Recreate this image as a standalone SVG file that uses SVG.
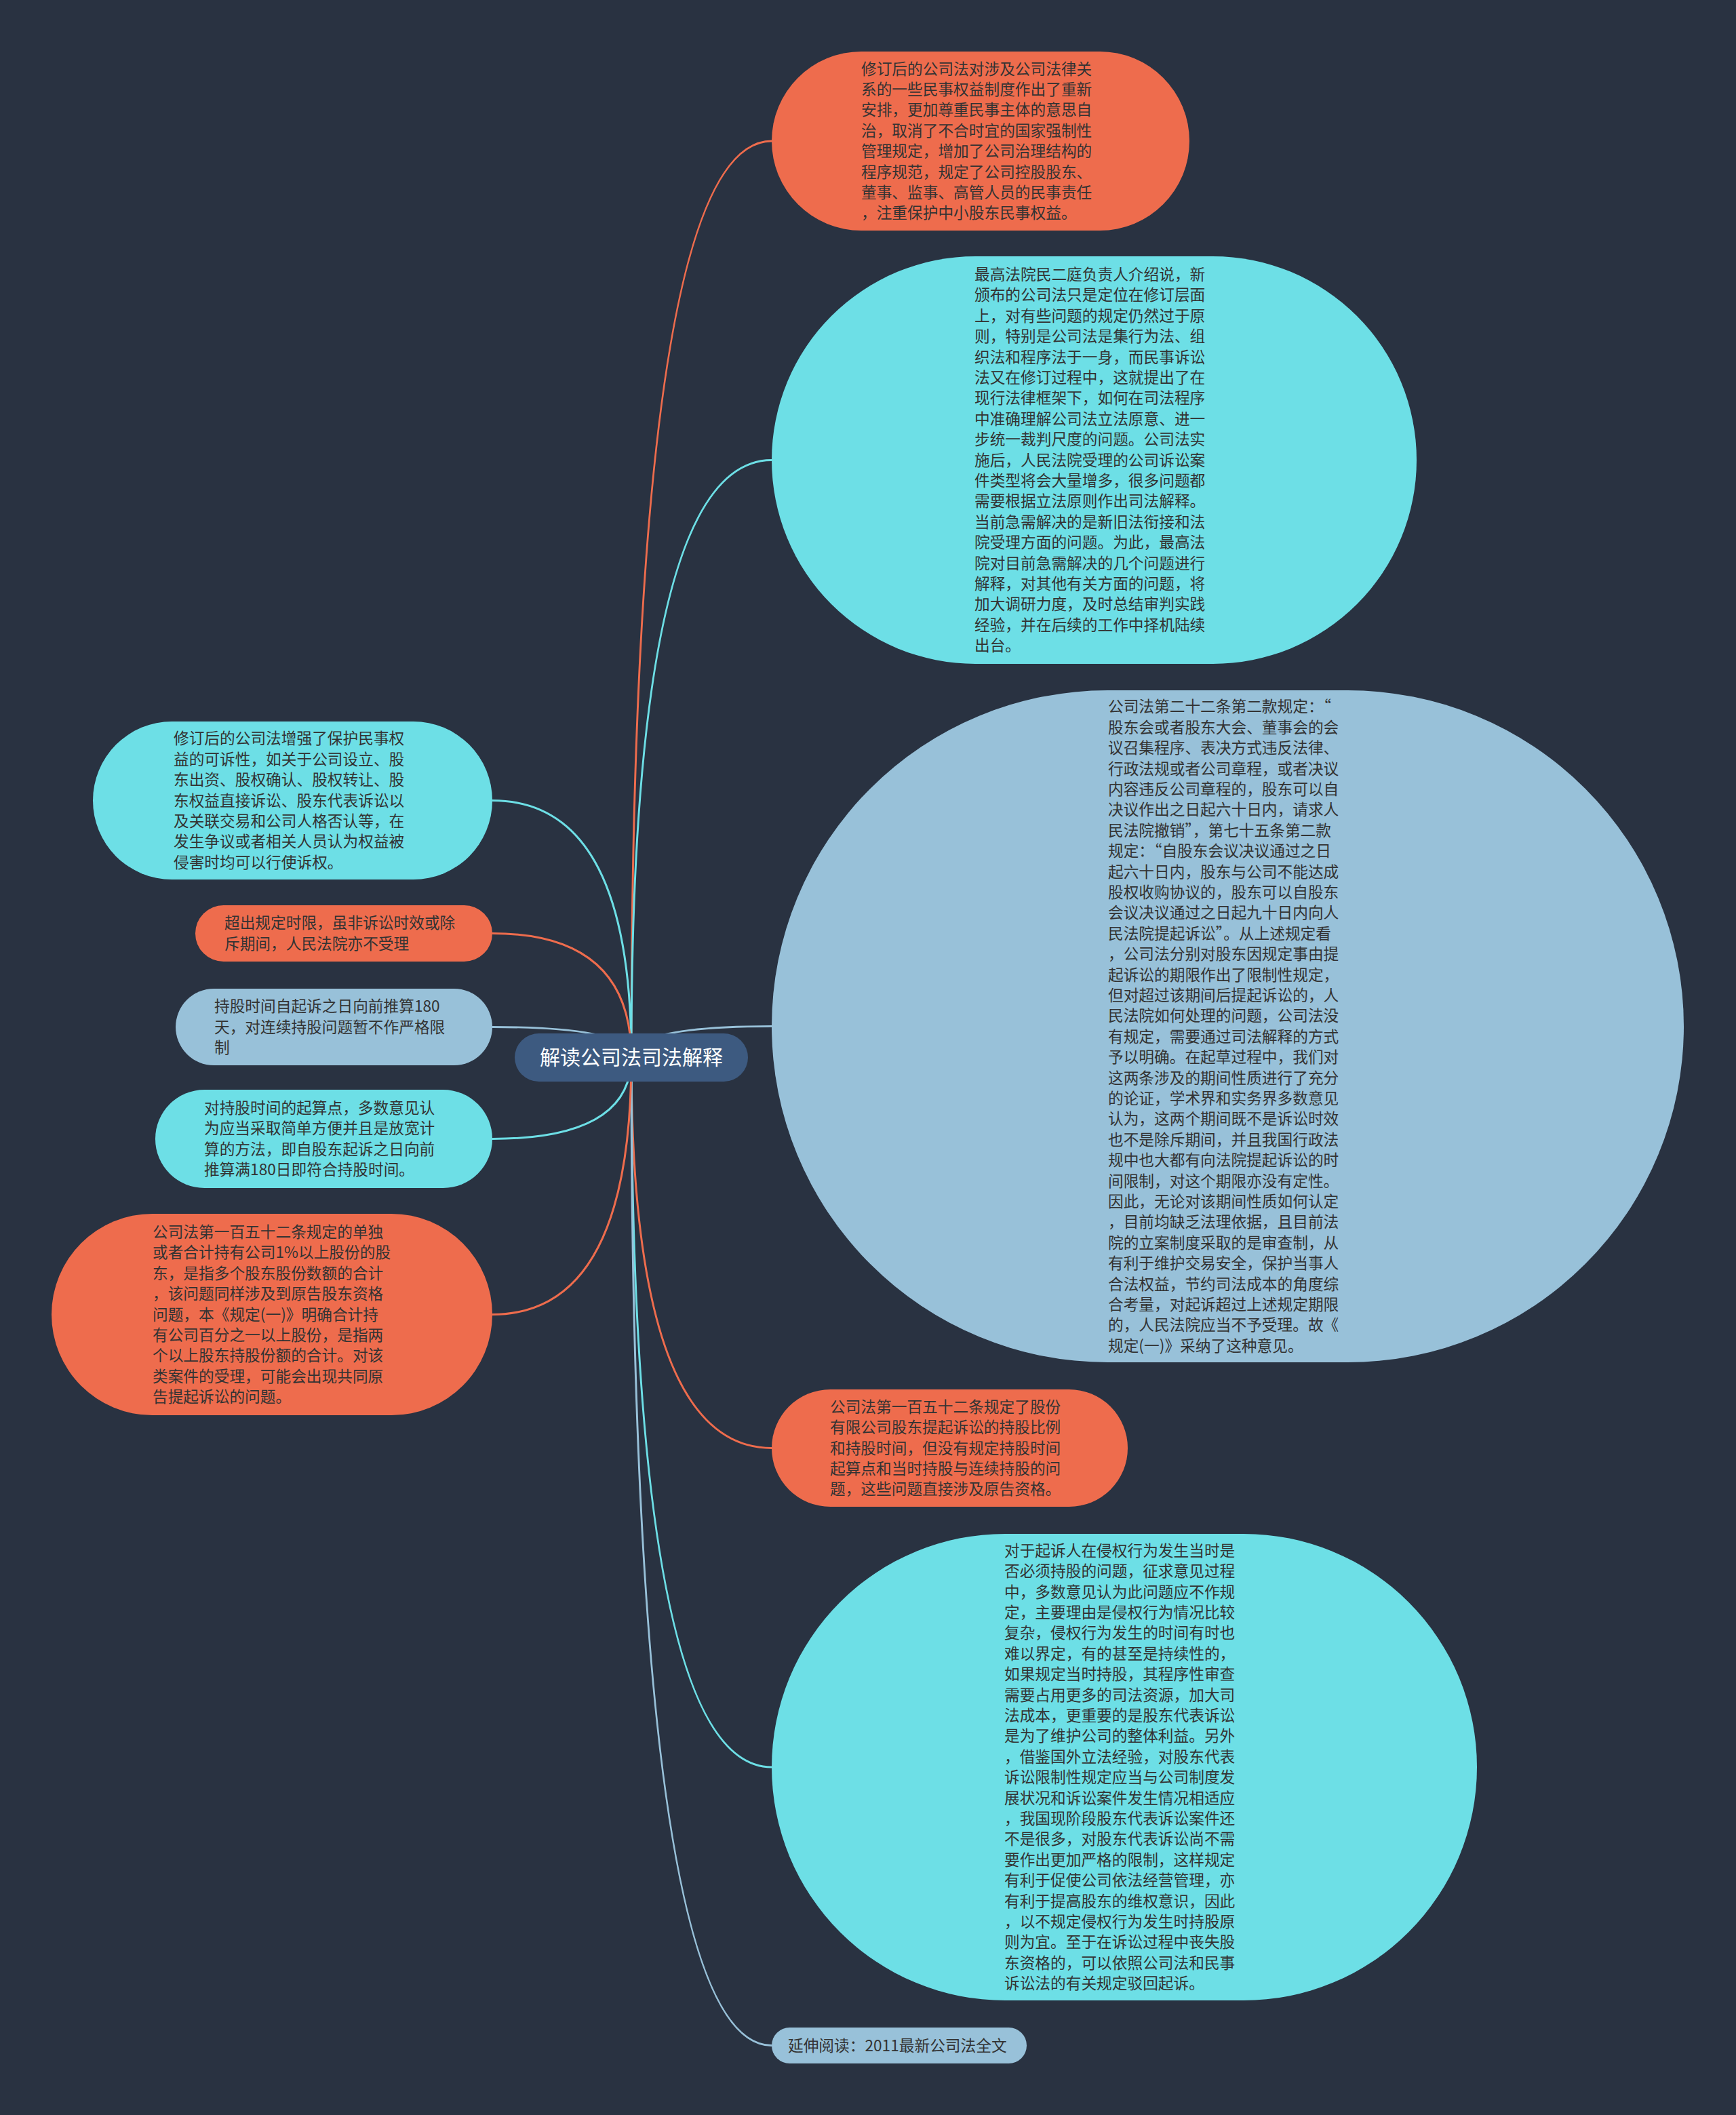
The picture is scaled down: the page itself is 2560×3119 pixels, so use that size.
<svg xmlns="http://www.w3.org/2000/svg" width="2560" height="3119" viewBox="0 0 2560 3119">
<style>
.bg{fill:#293241}
.o{fill:#ee6c4d}
.c{fill:#6ddfe6}
.b{fill:#98c1d9}
.m{fill:#3d5a80}
.t{font-family:"Noto Sans CJK SC","Noto Sans",sans-serif;font-size:22.7px;fill:#333333}
.tm{font-family:"Noto Sans CJK SC","Noto Sans",sans-serif;font-size:30px;fill:#ffffff}
.l{fill:none;stroke-width:3}
.lo{stroke:#ee6c4d}
.lc{stroke:#6ddfe6}
.lb{stroke:#98c1d9}
</style>
<rect class="bg" x="0" y="0" width="2560" height="3119"/>
<g id="connectors">
<path class="l lo" d="M931 1559.5 Q931 208 1138 208"/>
<path class="l lc" d="M931 1559.5 Q931 678.5 1138 678.5"/>
<path class="l lb" d="M931 1559.5 Q931 1513.5 1138 1513.5"/>
<path class="l lo" d="M931 1559.5 Q931 2135.5 1138 2135.5"/>
<path class="l lc" d="M931 1559.5 Q931 2606 1138 2606"/>
<path class="l lb" d="M931 1559.5 Q931 3016.5 1138 3016.5"/>
<path class="l lc" d="M931 1559.5 Q931 1180.5 726 1180.5"/>
<path class="l lo" d="M931 1559.5 Q931 1376.5 726 1376.5"/>
<path class="l lb" d="M931 1559.5 Q931 1514.5 726 1514.5"/>
<path class="l lc" d="M931 1559.5 Q931 1679.5 726 1679.5"/>
<path class="l lo" d="M931 1559.5 Q931 1938.5 726 1938.5"/>
</g>
<g id="center">
<rect class="m" x="759" y="1524" width="344" height="71" rx="35.5"/>
<text class="tm" x="931" y="1570" text-anchor="middle">解读公司法司法解释</text>
</g>
<g id="node1">
<rect class="o" x="1138" y="76" width="616" height="264" rx="132"/>
<text class="t" x="1270" y="109.6"><tspan x="1270">修订后的公司法对涉及公司法律关</tspan><tspan x="1270" dy="30.4">系的一些民事权益制度作出了重新</tspan><tspan x="1270" dy="30.4">安排，更加尊重民事主体的意思自</tspan><tspan x="1270" dy="30.4">治，取消了不合时宜的国家强制性</tspan><tspan x="1270" dy="30.4">管理规定，增加了公司治理结构的</tspan><tspan x="1270" dy="30.4">程序规范，规定了公司控股股东、</tspan><tspan x="1270" dy="30.4">董事、监事、高管人员的民事责任</tspan><tspan x="1270" dy="30.4">，注重保护中小股东民事权益。</tspan></text>
</g>
<g id="node2">
<rect class="c" x="1138" y="378" width="951" height="601" rx="300.5"/>
<text class="t" x="1437" y="413"><tspan x="1437">最高法院民二庭负责人介绍说，新</tspan><tspan x="1437" dy="30.4">颁布的公司法只是定位在修订层面</tspan><tspan x="1437" dy="30.4">上，对有些问题的规定仍然过于原</tspan><tspan x="1437" dy="30.4">则，特别是公司法是集行为法、组</tspan><tspan x="1437" dy="30.4">织法和程序法于一身，而民事诉讼</tspan><tspan x="1437" dy="30.4">法又在修订过程中，这就提出了在</tspan><tspan x="1437" dy="30.4">现行法律框架下，如何在司法程序</tspan><tspan x="1437" dy="30.4">中准确理解公司法立法原意、进一</tspan><tspan x="1437" dy="30.4">步统一裁判尺度的问题。公司法实</tspan><tspan x="1437" dy="30.4">施后，人民法院受理的公司诉讼案</tspan><tspan x="1437" dy="30.4">件类型将会大量增多，很多问题都</tspan><tspan x="1437" dy="30.4">需要根据立法原则作出司法解释。</tspan><tspan x="1437" dy="30.4">当前急需解决的是新旧法衔接和法</tspan><tspan x="1437" dy="30.4">院受理方面的问题。为此，最高法</tspan><tspan x="1437" dy="30.4">院对目前急需解决的几个问题进行</tspan><tspan x="1437" dy="30.4">解释，对其他有关方面的问题，将</tspan><tspan x="1437" dy="30.4">加大调研力度，及时总结审判实践</tspan><tspan x="1437" dy="30.4">经验，并在后续的工作中择机陆续</tspan><tspan x="1437" dy="30.4">出台。</tspan></text>
</g>
<g id="node3">
<rect class="b" x="1138" y="1018" width="1345" height="991" rx="495.5"/>
<text class="t" x="1634" y="1050.3"><tspan x="1634">公司法第二十二条第二款规定：“</tspan><tspan x="1634" dy="30.4">股东会或者股东大会、董事会的会</tspan><tspan x="1634" dy="30.4">议召集程序、表决方式违反法律、</tspan><tspan x="1634" dy="30.4">行政法规或者公司章程，或者决议</tspan><tspan x="1634" dy="30.4">内容违反公司章程的，股东可以自</tspan><tspan x="1634" dy="30.4">决议作出之日起六十日内，请求人</tspan><tspan x="1634" dy="30.4">民法院撤销”，第七十五条第二款</tspan><tspan x="1634" dy="30.4">规定：“自股东会议决议通过之日</tspan><tspan x="1634" dy="30.4">起六十日内，股东与公司不能达成</tspan><tspan x="1634" dy="30.4">股权收购协议的，股东可以自股东</tspan><tspan x="1634" dy="30.4">会议决议通过之日起九十日内向人</tspan><tspan x="1634" dy="30.4">民法院提起诉讼”。从上述规定看</tspan><tspan x="1634" dy="30.4">，公司法分别对股东因规定事由提</tspan><tspan x="1634" dy="30.4">起诉讼的期限作出了限制性规定，</tspan><tspan x="1634" dy="30.4">但对超过该期间后提起诉讼的，人</tspan><tspan x="1634" dy="30.4">民法院如何处理的问题，公司法没</tspan><tspan x="1634" dy="30.4">有规定，需要通过司法解释的方式</tspan><tspan x="1634" dy="30.4">予以明确。在起草过程中，我们对</tspan><tspan x="1634" dy="30.4">这两条涉及的期间性质进行了充分</tspan><tspan x="1634" dy="30.4">的论证，学术界和实务界多数意见</tspan><tspan x="1634" dy="30.4">认为，这两个期间既不是诉讼时效</tspan><tspan x="1634" dy="30.4">也不是除斥期间，并且我国行政法</tspan><tspan x="1634" dy="30.4">规中也大都有向法院提起诉讼的时</tspan><tspan x="1634" dy="30.4">间限制，对这个期限亦没有定性。</tspan><tspan x="1634" dy="30.4">因此，无论对该期间性质如何认定</tspan><tspan x="1634" dy="30.4">，目前均缺乏法理依据，且目前法</tspan><tspan x="1634" dy="30.4">院的立案制度采取的是审查制，从</tspan><tspan x="1634" dy="30.4">有利于维护交易安全，保护当事人</tspan><tspan x="1634" dy="30.4">合法权益，节约司法成本的角度综</tspan><tspan x="1634" dy="30.4">合考量，对起诉超过上述规定期限</tspan><tspan x="1634" dy="30.4">的，人民法院应当不予受理。故《</tspan><tspan x="1634" dy="30.4">规定(一)》采纳了这种意见。</tspan></text>
</g>
<g id="node4">
<rect class="o" x="1138" y="2049" width="525" height="173" rx="86.5"/>
<text class="t" x="1224" y="2082.7"><tspan x="1224">公司法第一百五十二条规定了股份</tspan><tspan x="1224" dy="30.4">有限公司股东提起诉讼的持股比例</tspan><tspan x="1224" dy="30.4">和持股时间，但没有规定持股时间</tspan><tspan x="1224" dy="30.4">起算点和当时持股与连续持股的问</tspan><tspan x="1224" dy="30.4">题，这些问题直接涉及原告资格。</tspan></text>
</g>
<g id="node5">
<rect class="c" x="1138" y="2262" width="1040" height="688" rx="344"/>
<text class="t" x="1481" y="2294.8"><tspan x="1481">对于起诉人在侵权行为发生当时是</tspan><tspan x="1481" dy="30.4">否必须持股的问题，征求意见过程</tspan><tspan x="1481" dy="30.4">中，多数意见认为此问题应不作规</tspan><tspan x="1481" dy="30.4">定，主要理由是侵权行为情况比较</tspan><tspan x="1481" dy="30.4">复杂，侵权行为发生的时间有时也</tspan><tspan x="1481" dy="30.4">难以界定，有的甚至是持续性的，</tspan><tspan x="1481" dy="30.4">如果规定当时持股，其程序性审查</tspan><tspan x="1481" dy="30.4">需要占用更多的司法资源，加大司</tspan><tspan x="1481" dy="30.4">法成本，更重要的是股东代表诉讼</tspan><tspan x="1481" dy="30.4">是为了维护公司的整体利益。另外</tspan><tspan x="1481" dy="30.4">，借鉴国外立法经验，对股东代表</tspan><tspan x="1481" dy="30.4">诉讼限制性规定应当与公司制度发</tspan><tspan x="1481" dy="30.4">展状况和诉讼案件发生情况相适应</tspan><tspan x="1481" dy="30.4">，我国现阶段股东代表诉讼案件还</tspan><tspan x="1481" dy="30.4">不是很多，对股东代表诉讼尚不需</tspan><tspan x="1481" dy="30.4">要作出更加严格的限制，这样规定</tspan><tspan x="1481" dy="30.4">有利于促使公司依法经营管理，亦</tspan><tspan x="1481" dy="30.4">有利于提高股东的维权意识，因此</tspan><tspan x="1481" dy="30.4">，以不规定侵权行为发生时持股原</tspan><tspan x="1481" dy="30.4">则为宜。至于在诉讼过程中丧失股</tspan><tspan x="1481" dy="30.4">东资格的，可以依照公司法和民事</tspan><tspan x="1481" dy="30.4">诉讼法的有关规定驳回起诉。</tspan></text>
</g>
<g id="node6">
<rect class="b" x="1138" y="2990" width="376" height="53" rx="26.5"/>
<text class="t" x="1162" y="3024.5">延伸阅读：2011最新公司法全文</text>
</g>
<g id="left1">
<rect class="c" x="137" y="1064" width="589" height="233" rx="116.5"/>
<text class="t" x="256" y="1097.3"><tspan x="256">修订后的公司法增强了保护民事权</tspan><tspan x="256" dy="30.4">益的可诉性，如关于公司设立、股</tspan><tspan x="256" dy="30.4">东出资、股权确认、股权转让、股</tspan><tspan x="256" dy="30.4">东权益直接诉讼、股东代表诉讼以</tspan><tspan x="256" dy="30.4">及关联交易和公司人格否认等，在</tspan><tspan x="256" dy="30.4">发生争议或者相关人员认为权益被</tspan><tspan x="256" dy="30.4">侵害时均可以行使诉权。</tspan></text>
</g>
<g id="left2">
<rect class="o" x="288" y="1335" width="438" height="83" rx="41.5"/>
<text class="t" x="331" y="1369.3"><tspan x="331">超出规定时限，虽非诉讼时效或除</tspan><tspan x="331" dy="30.4">斥期间，人民法院亦不受理</tspan></text>
</g>
<g id="left3">
<rect class="b" x="259" y="1458" width="467" height="113" rx="56.5"/>
<text class="t" x="316" y="1492.1"><tspan x="316">持股时间自起诉之日向前推算180</tspan><tspan x="316" dy="30.4">天，对连续持股问题暂不作严格限</tspan><tspan x="316" dy="30.4">制</tspan></text>
</g>
<g id="left4">
<rect class="c" x="229" y="1607" width="497" height="145" rx="72.5"/>
<text class="t" x="301" y="1641.9"><tspan x="301">对持股时间的起算点，多数意见认</tspan><tspan x="301" dy="30.4">为应当采取简单方便并且是放宽计</tspan><tspan x="301" dy="30.4">算的方法，即自股东起诉之日向前</tspan><tspan x="301" dy="30.4">推算满180日即符合持股时间。</tspan></text>
</g>
<g id="left5">
<rect class="o" x="76" y="1790" width="650" height="297" rx="148.5"/>
<text class="t" x="225" y="1824.9"><tspan x="225">公司法第一百五十二条规定的单独</tspan><tspan x="225" dy="30.4">或者合计持有公司1%以上股份的股</tspan><tspan x="225" dy="30.4">东，是指多个股东股份数额的合计</tspan><tspan x="225" dy="30.4">，该问题同样涉及到原告股东资格</tspan><tspan x="225" dy="30.4">问题，本《规定(一)》明确合计持</tspan><tspan x="225" dy="30.4">有公司百分之一以上股份，是指两</tspan><tspan x="225" dy="30.4">个以上股东持股份额的合计。对该</tspan><tspan x="225" dy="30.4">类案件的受理，可能会出现共同原</tspan><tspan x="225" dy="30.4">告提起诉讼的问题。</tspan></text>
</g>
</svg>
